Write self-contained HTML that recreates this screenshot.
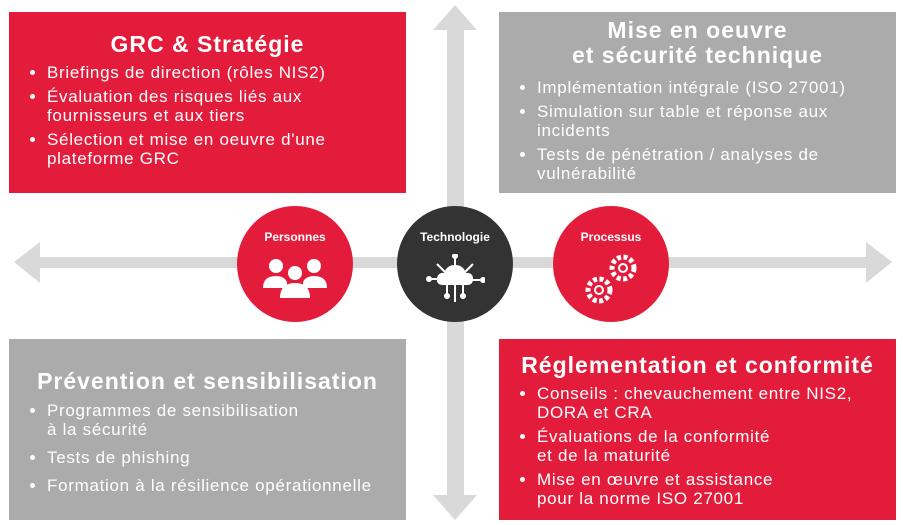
<!DOCTYPE html>
<html><head><meta charset="utf-8"><style>
body{margin:0;width:903px;height:525px;background:#fff;position:relative;overflow:hidden;font-family:"Liberation Sans","DejaVu Sans",sans-serif;color:#fff}
.box{position:absolute;width:397px;height:181px;box-sizing:border-box}
.red{background:#e41c3c}.gray{background:#ababab}
h2{margin:0;text-align:center;font-size:23px;font-weight:bold;line-height:25px;letter-spacing:1px;white-space:nowrap}
ul{margin:6px 0 0 0;padding:0 0 0 38px;font-size:17px;line-height:19px;letter-spacing:0.7px;white-space:nowrap}
li{margin-bottom:5px}
.c{position:absolute;width:116px;height:116px;border-radius:50%;text-align:center;font-size:12px;font-weight:bold;box-sizing:border-box;padding-top:24px}
</style></head><body>
<svg width="903" height="525" style="position:absolute;left:0;top:0">
<g fill="#d9d9d9">
<rect x="38" y="257" width="830" height="11"/>
<polygon points="14,262 40,242 40,283"/>
<polygon points="892,262 866,242 866,283"/>
<rect x="447" y="28" width="17" height="470"/>
<polygon points="455,5 433,30 477,30"/>
<polygon points="455,520 433,495 477,495"/>
</g></svg>
<div class="box red" style="left:9px;top:12px;padding-top:20px"><h2>GRC &amp; Stratégie</h2>
<ul><li>Briefings de direction (rôles NIS2)</li><li>Évaluation des risques liés aux<br>fournisseurs et aux tiers</li><li>Sélection et mise en oeuvre d'une<br>plateforme GRC</li></ul></div>
<div class="box gray" style="left:499px;top:12px;padding-top:6px"><h2>Mise en oeuvre<br>et sécurité technique</h2>
<ul style="padding-left:38px;margin-top:10px"><li>Implémentation intégrale (ISO 27001)</li><li>Simulation sur table et réponse aux<br>incidents</li><li>Tests de pénétration / analyses de<br>vulnérabilité</li></ul></div>
<div class="box gray" style="left:9px;top:339px;padding-top:30px"><h2>Prévention et sensibilisation</h2>
<ul style="margin-top:7px"><li style="margin-bottom:9px">Programmes de sensibilisation<br>à la sécurité</li><li style="margin-bottom:9px">Tests de phishing</li><li>Formation à la résilience opérationnelle</li></ul></div>
<div class="box red" style="left:499px;top:339px;padding-top:14px"><h2>Réglementation et conformité</h2>
<ul style="padding-left:38px"><li>Conseils : chevauchement entre NIS2,<br>DORA et CRA</li><li>Évaluations de la conformité<br>et de la maturité</li><li>Mise en œuvre et assistance<br>pour la norme ISO 27001</li></ul></div>
<div class="c" style="left:237px;top:206px;background:#e41c3c">Personnes
<svg width="70" height="50" viewBox="0 0 70 50" style="display:block;margin:12px auto 0" fill="#fff">
<circle cx="16" cy="10" r="7"/><circle cx="54" cy="10" r="7"/><circle cx="35" cy="17" r="7"/>
<path d="M3 32 Q3 20 16 20 Q24 20 27 26 L27 32Z"/><path d="M67 32 Q67 20 54 20 Q46 20 43 26 L43 32Z"/>
<path d="M20 42 Q20 27 35 27 Q50 27 50 42Z"/></svg></div>
<div class="c" style="left:397px;top:206px;background:#333">Technologie
<svg width="60" height="50" viewBox="0 0 60 50" style="display:block;margin:10px auto 0" fill="none" stroke="#fff" stroke-width="2">
<path d="M18 30 Q12 30 13 24 Q14 19 20 20 Q22 12 30 12 Q38 12 40 20 Q47 19 47 25 Q47 30 42 30Z" fill="#fff"/>
<path d="M30 12V2M20 18L12 10M40 18L48 10M47 26H58M13 25H4M22 30V40M38 30V40M30 30V48"/>
<circle cx="30" cy="2" r="2" fill="#fff"/><circle cx="58" cy="26" r="2" fill="#fff"/><circle cx="4" cy="25" r="2" fill="#fff"/><circle cx="22" cy="42" r="2" fill="#fff"/><circle cx="38" cy="42" r="2" fill="#fff"/></svg></div>
<div class="c" style="left:553px;top:206px;background:#e41c3c">Processus
<svg width="64" height="56" viewBox="0 0 64 56" style="display:block;margin:6px auto 0" fill="none" stroke="#fff" stroke-width="2">
<circle cx="44" cy="18" r="11" stroke-dasharray="4 2.5" stroke-width="5"/><circle cx="44" cy="18" r="4"/>
<circle cx="20" cy="40" r="11" stroke-dasharray="4 2.5" stroke-width="5"/><circle cx="20" cy="40" r="4"/></svg></div>
</body></html>
